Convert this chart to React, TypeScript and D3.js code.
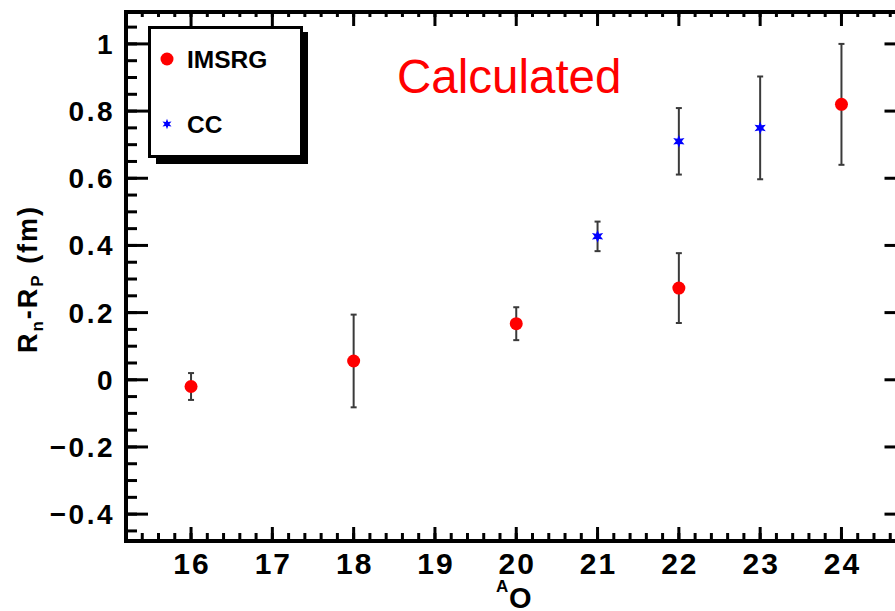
import React from "react";
import * as d3 from "d3";

const W = 895;
const H = 611;

// IMSRG series
const imsrgA = [16, 18, 20, 22, 24];
const imsrgVal = [-0.02, 0.056, 0.167, 0.273, 0.82];
const imsrgErr = [0.04, 0.138, 0.049, 0.104, 0.18];

// CC series
const ccA = [21, 22, 23];
const ccVal = [0.427, 0.71, 0.75];
const ccErr = [0.044, 0.099, 0.153];

const xTicks = [16, 17, 18, 19, 20, 21, 22, 23, 24];
const yTicks = [-0.4, -0.2, 0, 0.2, 0.4, 0.6, 0.8, 1];
const yTickLabels = ["\u22120.4", "\u22120.2", "0", "0.2", "0.4", "0.6", "0.8", "1"];

const legendLabels = ["IMSRG", "CC"];
const title = "Calculated";

const x = d3.scaleLinear().domain([15.2, 24.8]).range([126, 906.5]);
const y = d3.scaleLinear().domain([-0.48, 1.095]).range([541, 12]);

const starPath = (() => {
  const pts: [number, number][] = d3.range(12).map((i) => [
    (i * Math.PI) / 6,
    i % 2 === 0 ? 6.5 : 3,
  ]);
  return d3.lineRadial().curve(d3.curveLinearClosed)(pts) as string;
})();

const FONT = "'Liberation Sans', Arial, Helvetica, sans-serif";

export default function App() {
  const [x0, x1] = x.range();
  const [yb, yt] = y.range();
  const xMinor = d3.range(15.2, 24.81, 0.2).map((v) => +v.toFixed(2));
  const yMinor = d3.range(-0.45, 1.09, 0.05).map((v) => +v.toFixed(2));

  const errBar = (cx: number, v: number, e: number, key: string) => (
    <g key={key} stroke="#3a3a3a" strokeWidth={2}>
      <line x1={cx} x2={cx} y1={y(v + e)} y2={y(v - e)} />
      <line x1={cx - 3} x2={cx + 3} y1={y(v + e)} y2={y(v + e)} />
      <line x1={cx - 3} x2={cx + 3} y1={y(v - e)} y2={y(v - e)} />
    </g>
  );

  return (
    <svg
      width={W}
      height={H}
      style={{ position: "absolute", left: 0, top: 0, background: "#fff" }}
      fontFamily={FONT}
    >
      <rect x={0} y={0} width={W} height={H} fill="#fff" />

      {/* ticks */}
      <g stroke="#000" strokeWidth={3}>
        {xMinor.map((v, i) => (
          <g key={"xm" + i}>
            <line x1={x(v)} x2={x(v)} y1={yb} y2={yb - 8} />
            <line x1={x(v)} x2={x(v)} y1={yt} y2={yt + 5} />
          </g>
        ))}
        {yMinor.map((v, i) => (
          <g key={"ym" + i}>
            <line x1={x0} x2={x0 + 11} y1={y(v)} y2={y(v)} />
            <line x1={x1} x2={x1 - 11} y1={y(v)} y2={y(v)} />
          </g>
        ))}
        {xTicks.map((v) => (
          <g key={"xM" + v}>
            <line x1={x(v)} x2={x(v)} y1={yb} y2={yb - 14} />
            <line x1={x(v)} x2={x(v)} y1={yt} y2={yt + 14} />
          </g>
        ))}
        {yTicks.map((v) => (
          <g key={"yM" + v}>
            <line x1={x0} x2={x0 + 22} y1={y(v)} y2={y(v)} />
            <line x1={x1} x2={x1 - 22} y1={y(v)} y2={y(v)} />
          </g>
        ))}
      </g>

      {/* frame */}
      <rect
        x={x0}
        y={yt}
        width={x1 - x0}
        height={yb - yt}
        fill="none"
        stroke="#000"
        strokeWidth={4}
      />

      {/* tick labels */}
      <g fontWeight="bold" fontSize={28} letterSpacing={2.5} fill="#000">
        {yTicks.map((v, i) => (
          <text key={"yl" + v} x={115} y={y(v) + 10} textAnchor="end">
            {yTickLabels[i]}
          </text>
        ))}
      </g>
      <g fontWeight="bold" fontSize={30} letterSpacing={2} fill="#000">
        {xTicks.map((v) => (
          <text key={"xl" + v} x={x(v) + 1} y={574} textAnchor="middle">
            {v}
          </text>
        ))}
      </g>

      {/* axis titles */}
      <text fontWeight="bold" fill="#000" x={496} y={592} fontSize={17}>
        A
      </text>
      <text fontWeight="bold" fill="#000" x={509} y={608} fontSize={29}>
        O
      </text>
      <text
        fontWeight="bold"
        fill="#000"
        fontSize={27}
        letterSpacing={2}
        transform="translate(37,279) rotate(-90)"
        textAnchor="middle"
      >
        R<tspan fontSize={17} dy={6}>n</tspan>
        <tspan dy={-6}>-R</tspan>
        <tspan fontSize={17} dy={6}>P</tspan>
        <tspan dy={-6}> (fm)</tspan>
      </text>

      {/* title */}
      <text x={397} y={93} fontSize={47.5} fill="#ff0000">
        {title}
      </text>

      {/* error bars */}
      {imsrgA.map((a, i) => errBar(x(a), imsrgVal[i], imsrgErr[i], "ie" + i))}
      {ccA.map((a, i) => errBar(x(a), ccVal[i], ccErr[i], "ce" + i))}

      {/* markers */}
      {imsrgA.map((a, i) => (
        <circle key={"ic" + i} cx={x(a)} cy={y(imsrgVal[i])} r={6.5} fill="#ff0000" />
      ))}
      {ccA.map((a, i) => (
        <path
          key={"cs" + i}
          d={starPath}
          transform={`translate(${x(a)},${y(ccVal[i])})`}
          fill="#0000ff"
        />
      ))}

      {/* legend */}
      <rect x={156} y={32} width={152} height={132} fill="#000" />
      <rect x={149.5} y={27.5} width={152} height={129} fill="#fff" stroke="#000" strokeWidth={3} />
      <circle cx={167} cy={59} r={6.5} fill="#ff0000" />
      <path d={starPath} transform="translate(167,124) scale(0.8)" fill="#0000ff" />
      <g fontWeight="bold" fontSize={24.5} fill="#000">
        <text x={187} y={68}>{legendLabels[0]}</text>
        <text x={187} y={133}>{legendLabels[1]}</text>
      </g>
    </svg>
  );
}
